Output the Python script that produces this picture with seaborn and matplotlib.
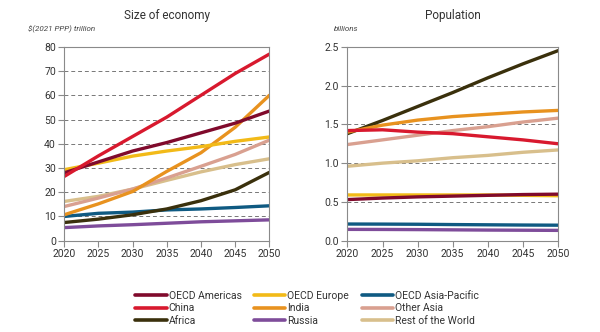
import matplotlib
matplotlib.use("Agg")
import matplotlib.pyplot as plt
from matplotlib.lines import Line2D
import seaborn as sns
import pandas as pd

years = [2020, 2025, 2030, 2035, 2040, 2045, 2050]
regions = ["OECD Americas", "China", "Africa", "OECD Europe", "India", "Russia",
           "OECD Asia-Pacific", "Other Asia", "Rest of the World"]
colors = ["#800A2C", "#D8192E", "#3A300C", "#F2BA18", "#E8921F", "#7E4C9A",
          "#0F5A82", "#D9A090", "#D8BF8C"]

# Size of economy, $(2021 PPP) trillion
gdp_oecd_americas = [28.0, 32.5, 37.0, 40.5, 44.5, 48.5, 53.5]
gdp_china = [26.5, 35.0, 43.0, 51.0, 60.0, 69.0, 77.0]
gdp_africa = [7.5, 8.9, 10.7, 13.1, 16.5, 21.0, 28.2]
gdp_oecd_europe = [29.3, 32.0, 34.9, 37.0, 38.8, 41.0, 42.8]
gdp_india = [10.7, 15.2, 20.3, 28.6, 36.3, 46.8, 60.0]
gdp_russia = [5.4, 6.1, 6.6, 7.2, 7.8, 8.2, 8.6]
gdp_oecd_asia_pacific = [10.0, 11.3, 11.8, 12.7, 13.1, 13.7, 14.4]
gdp_other_asia = [14.1, 17.6, 21.3, 25.9, 30.7, 35.6, 41.5]
gdp_rest_world = [16.2, 18.3, 21.3, 24.9, 28.4, 31.4, 33.8]

# Population, billions
pop_oecd_americas = [0.53, 0.55, 0.565, 0.575, 0.585, 0.595, 0.60]
pop_china = [1.42, 1.43, 1.40, 1.38, 1.34, 1.30, 1.25]
pop_africa = [1.38, 1.55, 1.73, 1.91, 2.10, 2.28, 2.45]
pop_oecd_europe = [0.59, 0.59, 0.59, 0.59, 0.59, 0.585, 0.58]
pop_india = [1.40, 1.49, 1.555, 1.60, 1.63, 1.66, 1.68]
pop_russia = [0.146, 0.145, 0.143, 0.14, 0.137, 0.135, 0.133]
pop_oecd_asia_pacific = [0.215, 0.214, 0.212, 0.208, 0.205, 0.202, 0.20]
pop_other_asia = [1.24, 1.30, 1.36, 1.42, 1.47, 1.53, 1.58]
pop_rest_world = [0.96, 1.00, 1.03, 1.07, 1.10, 1.14, 1.17]

gdp = [gdp_oecd_americas, gdp_china, gdp_africa, gdp_oecd_europe, gdp_india,
       gdp_russia, gdp_oecd_asia_pacific, gdp_other_asia, gdp_rest_world]
pop = [pop_oecd_americas, pop_china, pop_africa, pop_oecd_europe, pop_india,
       pop_russia, pop_oecd_asia_pacific, pop_other_asia, pop_rest_world]


def long_df(series):
    rows = []
    for r, vals in zip(regions, series):
        for y, v in zip(years, vals):
            rows.append({"year": y, "value": v, "region": r})
    return pd.DataFrame(rows)


sns.set_theme(style="white")
plt.rcParams["font.family"] = ["Roboto", "DejaVu Sans"]
txt = "#333333"
spine_c = "#8a8a8a"

fig = plt.figure(figsize=(6.0, 3.32), dpi=100)
ax1 = fig.add_axes([0.107, 0.275, 0.342, 0.584])
ax2 = fig.add_axes([0.579, 0.275, 0.351, 0.584])

palette = dict(zip(regions, colors))
draw_order = ["Russia", "OECD Asia-Pacific", "Africa", "Rest of the World", "Other Asia",
              "India", "OECD Europe", "OECD Americas", "China"]

for ax, series, ymax, ystep, title, unit, ux in [
        (ax1, gdp, 80, 10, "Size of economy", r"\$(2021 PPP) trillion", 0.047),
        (ax2, pop, 2.5, 0.5, "Population", "billions", 0.557)]:
    df = long_df(series)
    sns.lineplot(data=df, x="year", y="value", hue="region", hue_order=draw_order,
                 palette=palette, ax=ax, legend=False, linewidth=2.4)
    ax.set_xlim(2020, 2050)
    ax.set_ylim(0, ymax)
    ax.set_xticks(years)
    n = int(round(ymax / ystep))
    ticks = [i * ystep for i in range(n + 1)]
    ax.set_yticks(ticks)
    if ystep < 1:
        ax.set_yticklabels([f"{t:.1f}" for t in ticks])
    for t in ticks[1:-1]:
        ax.axhline(t, color="#777777", linestyle=(0, (4, 3)), linewidth=0.7, zorder=0)
    ax.set_xlabel("")
    ax.set_ylabel("")
    for s in ax.spines.values():
        s.set_color(spine_c)
        s.set_linewidth(0.8)
    ax.tick_params(axis="both", direction="out", length=4, width=0.8, color=spine_c,
                   labelsize=7.5, labelcolor=txt, pad=2, left=True, bottom=True)
    ax.set_title(title, fontsize=8.5, color=txt, pad=20)
    fig.text(ux, 0.912, unit, fontsize=5.8, style="italic", color="#444444",
             ha="left", va="center")

handles = [Line2D([0], [0], color=c, linewidth=2.6, solid_capstyle="round") for c in colors]
fig.legend(handles, regions, ncol=3, loc="lower left", bbox_to_anchor=(0.215, 0.0),
           frameon=False, fontsize=7.5, handlelength=3.0, handletextpad=0.2,
           columnspacing=1.2, labelspacing=0.25, labelcolor=txt, borderaxespad=0.2)

fig.savefig("out.png", dpi=100)
